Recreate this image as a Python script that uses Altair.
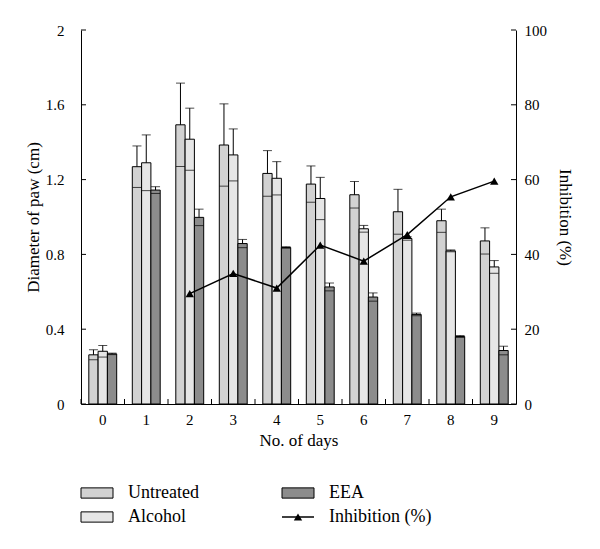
import altair as alt
import pandas as pd

days = [0, 1, 2, 3, 4, 5, 6, 7, 8, 9]
series_names = ["Untreated", "Alcohol", "EEA"]
untreated = [0.263, 1.269, 1.493, 1.385, 1.233, 1.176, 1.119, 1.028, 0.980, 0.872]
untreated_sd = [0.027, 0.111, 0.223, 0.220, 0.122, 0.097, 0.071, 0.120, 0.062, 0.070]
alcohol = [0.282, 1.290, 1.416, 1.332, 1.207, 1.099, 0.937, 0.885, 0.819, 0.733]
alcohol_sd = [0.031, 0.149, 0.166, 0.139, 0.089, 0.113, 0.018, 0.009, 0.005, 0.034]
eea = [0.268, 1.144, 0.998, 0.858, 0.837, 0.626, 0.572, 0.479, 0.361, 0.286]
eea_sd = [0.004, 0.018, 0.044, 0.022, 0.004, 0.021, 0.022, 0.007, 0.005, 0.023]
inh_days = [2, 3, 4, 5, 6, 7, 8, 9]
inhibition = [29.5, 34.9, 31.0, 42.5, 38.2, 45.3, 55.4, 59.6]
left_ticks = [0, 0.4, 0.8, 1.2, 1.6, 2.0]
right_ticks = [0, 20, 40, 60, 80, 100]

legend_labels = ["Untreated", "Alcohol", "EEA", "Inhibition (%)"]
legend_col = [0, 0, 1, 1]
legend_row = [0, 1, 0, 1]
legend_kind = ["bar", "bar", "bar", "line"]

rows = []
for name, vals, sds in zip(series_names, [untreated, alcohol, eea], [untreated_sd, alcohol_sd, eea_sd]):
    for d, v, s in zip(days, vals, sds):
        rows.append({"day": d, "series": name, "value": v, "sd": s})
bars_df = pd.DataFrame(rows)
inh_df = pd.DataFrame({"day": inh_days, "inhibition": inhibition})
leg_df = pd.DataFrame({"label": legend_labels, "col": legend_col, "row": legend_row, "kind": legend_kind})

W, H = 435, 374
FONT = "Liberation Serif, Times New Roman, serif"
fill_scale = alt.Scale(domain=series_names, range=["#d2d2d2", "#e6e6e6", "#8c8c8c"])

x_axis = alt.Axis(title="No. of days", labelAngle=0, ticks=False,
                  labelPadding=8, titlePadding=5)
x_scale = alt.Scale(paddingInner=0, paddingOuter=0)
X = alt.X("day:O", scale=x_scale, axis=x_axis)
XO = alt.XOffset("series:N", sort=series_names,
                 scale=alt.Scale(paddingInner=0, paddingOuter=0.84))
y_scale = alt.Scale(domain=[0, 2])
y_axis = alt.Axis(title="Diameter of paw (cm)", values=left_ticks, format="~g",
                  ticks=False, labelPadding=17, titlePadding=3)

base = alt.Chart(bars_df)
bars = base.mark_bar(stroke="black", strokeWidth=1).encode(
    x=X, xOffset=XO,
    y=alt.Y("value:Q", scale=y_scale, axis=y_axis),
    fill=alt.Fill("series:N", scale=fill_scale, legend=None),
)
whisk = base.transform_calculate(upper="datum.value + datum.sd").mark_rule(
    color="black", strokeWidth=1).encode(
    x=X, xOffset=XO,
    y=alt.Y("value:Q", scale=y_scale, axis=y_axis), y2="upper:Q")
caps = base.transform_calculate(upper="datum.value + datum.sd").mark_tick(
    color="black", thickness=1, size=9, orient="horizontal").encode(
    x=X, xOffset=XO, y=alt.Y("upper:Q", scale=y_scale, axis=y_axis))
lower = base.transform_calculate(lower="datum.value - datum.sd").mark_tick(
    color="black", thickness=1, size=9, orient="horizontal").encode(
    x=X, xOffset=XO, y=alt.Y("lower:Q", scale=y_scale, axis=y_axis))

# inward tick marks
lt = alt.Chart(pd.DataFrame({"t": left_ticks})).mark_rule(color="black", strokeWidth=1).encode(
    y=alt.Y("t:Q", scale=y_scale, axis=y_axis), x=alt.value(0), x2=alt.value(5))
xt = alt.Chart(pd.DataFrame({"day": days})).mark_rule(color="black", strokeWidth=1).encode(
    x=alt.X("day:O", scale=x_scale, axis=x_axis, bandPosition=0),
    y=alt.value(H), y2=alt.value(H - 5))

left = alt.layer(bars, whisk, caps, lower, lt, xt)

y2_axis = alt.Axis(title="Inhibition (%)", orient="right", values=right_ticks,
                   ticks=False, labelPadding=8, titlePadding=9)
y2_scale = alt.Scale(domain=[0, 100])
line = alt.Chart(inh_df).mark_line(color="black", strokeWidth=1.5).encode(
    x=X, y=alt.Y("inhibition:Q", scale=y2_scale, axis=y2_axis))
pts = alt.Chart(inh_df).mark_point(shape="triangle-up", filled=True, color="black",
                                   size=70, opacity=1).encode(
    x=X, y=alt.Y("inhibition:Q", scale=y2_scale, axis=y2_axis))
rt = alt.Chart(pd.DataFrame({"t": right_ticks})).mark_rule(color="black", strokeWidth=1).encode(
    y=alt.Y("t:Q", scale=y2_scale, axis=y2_axis), x=alt.value(W), x2=alt.value(W - 5))
right = alt.layer(line, pts, rt)

main = alt.layer(left, right).resolve_scale(y="independent").properties(width=W, height=H)

# legend
lx = alt.X("col:Q", scale=alt.Scale(domain=[0, 1], range=[16, 217]), axis=None)
ly = alt.Y("row:Q", scale=alt.Scale(domain=[0, 1], range=[31, 55]), axis=None)
lbase = alt.Chart(leg_df)
leg_rect = lbase.transform_filter("datum.kind == 'bar'").mark_point(
    shape="M-1,-0.32H1V0.32H-1Z", size=1024, filled=True, stroke="black",
    strokeWidth=1, opacity=1).encode(
    x=lx, y=ly, fill=alt.Fill("label:N", scale=fill_scale, legend=None))
leg_line = lbase.transform_filter("datum.kind == 'line'").mark_point(
    shape="M-1,0H1", size=1024, filled=False, stroke="black", strokeWidth=1.5,
    opacity=1).encode(x=lx, y=ly)
leg_tri = lbase.transform_filter("datum.kind == 'line'").mark_point(
    shape="triangle-up", size=70, filled=True, color="black", opacity=1).encode(x=lx, y=ly)
leg_text = lbase.mark_text(align="left", baseline="middle", dx=31, font=FONT,
                           fontSize=18, color="black").encode(x=lx, y=ly, text="label:N")
legend = alt.layer(leg_rect, leg_line, leg_tri, leg_text).properties(width=W, height=60)

chart = alt.vconcat(main, legend, spacing=14).properties(
    padding={"left": 16, "top": 15, "right": 5, "bottom": 5}
).configure_view(stroke=None).configure_axis(
    labelFont=FONT, titleFont=FONT, labelFontSize=15, titleFontSize=17,
    titleFontWeight="normal", labelColor="black", titleColor="black",
    domainColor="black", tickColor="black", grid=False,
)

chart.save("out.html", embed_options={"renderer": "svg", "actions": False})
